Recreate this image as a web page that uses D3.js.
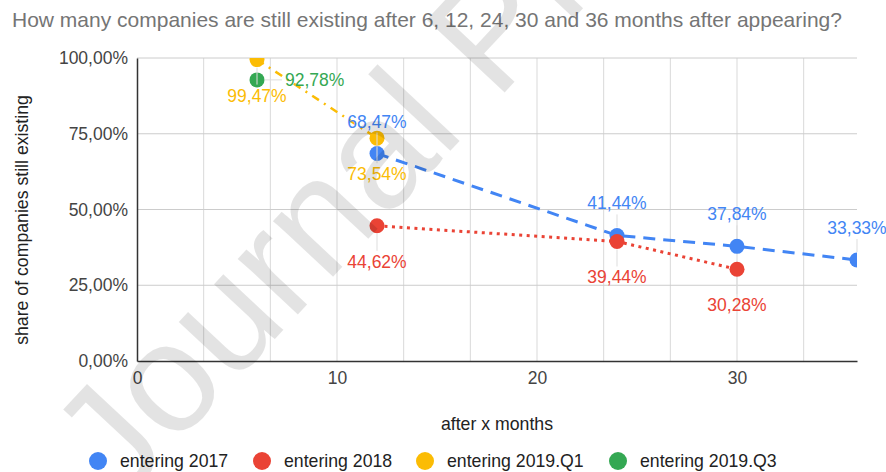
<!DOCTYPE html>
<html>
<head>
<meta charset="utf-8">
<script src="https://cdn.jsdelivr.net/npm/d3@7"></script>
<style>
  body { margin: 0; background: #fff; }
  text { font-family: "Liberation Sans", Arial, sans-serif; }
</style>
</head>
<body>
<svg id="chart" width="886" height="472"></svg>
<script>
const width = 886;
const height = 472;

// data
const seriesNames = ['entering 2017', 'entering 2018', 'entering 2019.Q1', 'entering 2019.Q3'];
const months2017 = [12, 24, 30, 36];
const share2017 = [68.47, 41.44, 37.84, 33.33];
const months2018 = [12, 24, 30];
const share2018 = [44.62, 39.44, 30.28];
const months2019Q1 = [6, 12];
const share2019Q1 = [99.47, 73.54];
const months2019Q3 = [6];
const share2019Q3 = [92.78];
const xTicks = [0, 10, 20, 30];
const yTicks = [0, 25, 50, 75, 100];

const colors = ['#4285f4', '#ea4335', '#fbbc04', '#34a853'];
const dashes = ['12,8', '3,4.5', '8,6,2,6', null];
const labelPos = ['above', 'below', 'below', 'right'];

const margin = { top: 58, right: 29, bottom: 111, left: 137 };

const svg = d3.select('#chart');

const x = d3.scaleLinear()
    .domain([0, 36])
    .range([margin.left, width - margin.right]);
const y = d3.scaleLinear()
    .domain([0, 100])
    .range([height - margin.bottom, margin.top]);

const fmt = v => d3.format('.2f')(v).replace('.', ',') + '%';

// title
svg.append('text')
    .attr('x', 12)
    .attr('y', 27)
    .attr('fill', '#757575')
    .style('font-size', '21px')
    .text('How many companies are still existing after 6, 12, 24, 30 and 36 months after appearing?');

// grid
const grid = svg.append('g');
grid.selectAll('.vgrid')
    .data(d3.range(1, 11).map(i => i * 10 / 3))
    .enter()
    .append('line')
    .attr('x1', d => x(d)).attr('x2', d => x(d))
    .attr('y1', y(100)).attr('y2', y(0))
    .attr('stroke', '#d9d9d9')
    .attr('stroke-width', 1);
grid.selectAll('.hgrid')
    .data(yTicks.slice(1))
    .enter()
    .append('line')
    .attr('x1', x(0)).attr('x2', x(36))
    .attr('y1', d => y(d)).attr('y2', d => y(d))
    .attr('stroke', '#cccccc')
    .attr('stroke-width', 1);

// axes
const yAxis = svg.append('g')
    .attr('transform', 'translate(' + x(0) + ',0)')
    .call(d3.axisLeft(y).tickValues(yTicks).tickFormat(fmt).tickSize(0).tickPadding(9));
const xAxis = svg.append('g')
    .attr('transform', 'translate(0,' + y(0) + ')')
    .call(d3.axisBottom(x).tickValues(xTicks).tickSize(0).tickPadding(11));
[yAxis, xAxis].forEach(a => {
    a.select('.domain').attr('stroke', '#333').attr('stroke-width', 1.5);
    a.selectAll('text')
        .attr('fill', '#444')
        .style('font-size', '17.5px')
        .style('font-family', '"Liberation Sans", Arial, sans-serif');
});

// axis titles
svg.append('text')
    .attr('x', 497)
    .attr('y', 430)
    .attr('text-anchor', 'middle')
    .attr('fill', '#222')
    .style('font-size', '17.7px')
    .text('after x months');
svg.append('text')
    .attr('transform', 'translate(28,' + 220 + ') rotate(-90)')
    .attr('text-anchor', 'middle')
    .attr('fill', '#222')
    .style('font-size', '17.7px')
    .text('share of companies still existing');

// series
const seriesData = [
    d3.zip(months2017, share2017),
    d3.zip(months2018, share2018),
    d3.zip(months2019Q1, share2019Q1),
    d3.zip(months2019Q3, share2019Q3)
];

svg.append('clipPath')
    .attr('id', 'plotClip')
    .append('rect')
    .attr('x', x(0)).attr('y', y(100))
    .attr('width', x(36) - x(0)).attr('height', y(0) - y(100));

const plot = svg.append('g').attr('clip-path', 'url(#plotClip)');
const line = d3.line().x(d => x(d[0])).y(d => y(d[1]));

seriesData.forEach((pts, i) => {
    if (pts.length > 1) {
        plot.append('path')
            .datum(pts)
            .attr('d', line)
            .attr('fill', 'none')
            .attr('stroke', colors[i])
            .attr('stroke-width', i == 2 ? 2.5 : 3)
            .attr('stroke-dasharray', dashes[i]);
    }
});

// leader lines + labels
const labels = svg.append('g');
seriesData.forEach((pts, i) => {
    pts.forEach(p => {
        const cx = x(p[0]), cy = y(p[1]);
        let lx = cx, ly = cy, anchor = 'middle';
        if (labelPos[i] == 'above') ly = cy - 32;
        else if (labelPos[i] == 'below') ly = cy + 36;
        else { lx = cx + 28; anchor = 'start'; }
        if (labelPos[i] == 'right') {
            labels.append('line')
                .attr('x1', cx + 8).attr('x2', lx - 3)
                .attr('y1', cy).attr('y2', cy)
                .attr('stroke', '#ddd');
        } else {
            const dir = ly > cy ? 1 : -1;
            labels.append('line')
                .attr('x1', cx).attr('x2', cx)
                .attr('y1', cy + dir * 8).attr('y2', ly - dir * 11)
                .attr('stroke', '#ddd');
        }
        labels.append('text')
            .attr('x', lx)
            .attr('y', ly + 6)
            .attr('text-anchor', anchor)
            .attr('fill', colors[i])
            .style('font-size', '17.5px')
            .text(fmt(p[1]));
    });
});

seriesData.forEach((pts, i) => {
    plot.selectAll('.pt' + i)
        .data(pts)
        .enter()
        .append('circle')
        .attr('cx', d => x(d[0]))
        .attr('cy', d => y(d[1]))
        .attr('r', 7.5)
        .attr('fill', colors[i]);
});

// legend
const legendX = [98, 262, 425, 618];
const legend = svg.append('g')
    .selectAll('g')
    .data(seriesNames)
    .enter()
    .append('g')
    .attr('transform', (d, i) => 'translate(' + legendX[i] + ',461)');
legend.append('circle')
    .attr('r', 9)
    .attr('fill', (d, i) => colors[i]);
legend.append('text')
    .attr('x', 22)
    .attr('y', 6)
    .attr('fill', '#222')
    .style('font-size', '17.7px')
    .text(d => d);

// watermark
svg.append('text')
    .attr('transform', 'translate(120,505) rotate(-47)')
    .attr('fill', '#000')
    .attr('fill-opacity', 0.11)
    .style('font-size', '155px')
    .text('Journal Pre-proof');
</script>
</body>
</html>
